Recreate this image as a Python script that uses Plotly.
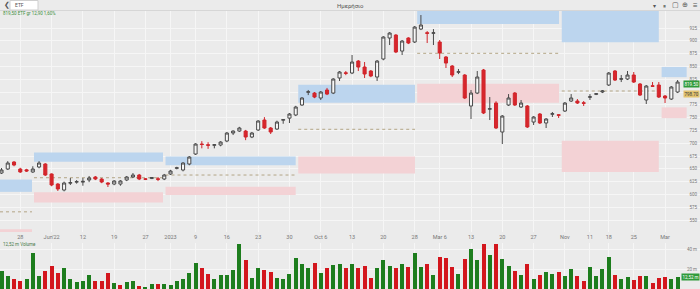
import plotly.graph_objects as go

# ---------------- data ----------------
opens = [641.8, 649.6, 663.3, 649.6, 648.0, 643.8, 653.5, 659.4, 639.9, 620.3,
         608.6, 622.0, 624.0, 624.0, 628.2, 634.0, 630.0, 622.3, 620.3, 620.3,
         628.2, 634.0, 637.9, 630.5, 631.0, 630.5, 630.1, 639.9, 651.0, 647.7,
         659.4, 678.9, 698.5, 697.0, 696.0, 696.5, 704.3, 719.9, 723.8, 723.8,
         712.1, 725.8, 745.3, 729.7, 727.7, 745.0, 749.0, 755.1, 774.6, 799.5,
         798.0, 788.3, 803.9, 798.0, 827.4, 837.5, 837.1, 860.5, 848.8, 841.0,
         829.3, 864.5, 905.5, 911.3, 880.0, 905.5, 897.7, 923.0, 915.7, 914.7,
         897.7, 868.4, 850.8, 838.6, 833.2, 772.7, 798.0, 843.0, 766.4, 778.5,
         721.9, 774.6, 798.0, 770.7, 772.7, 741.4, 757.0, 739.5, 756.6, 755.6,
         762.9, 782.4, 782.4, 779.0, 789.7, 795.6, 800.0, 813.7, 841.0, 824.9,
         825.4, 833.2, 815.6, 784.4, 812.2, 813.7, 792.2, 786.3, 800.0]
highs = [651.6, 665.0, 665.0, 652.0, 650.0, 655.0, 665.0, 661.0, 641.0, 622.0,
         625.0, 632.0, 628.0, 632.0, 636.0, 636.0, 632.0, 624.0, 628.0, 628.0,
         636.0, 641.8, 640.0, 632.0, 634.0, 634.0, 640.0, 648.0, 654.0, 663.0,
         675.0, 700.0, 704.0, 702.0, 698.0, 704.0, 722.0, 725.0, 732.0, 726.0,
         722.0, 745.0, 751.0, 731.7, 744.0, 747.0, 759.0, 773.0, 790.0, 804.0,
         800.0, 802.0, 808.0, 827.0, 841.0, 841.0, 872.3, 862.5, 858.6, 843.0,
         862.5, 909.0, 917.0, 913.0, 901.6, 907.0, 929.0, 950.4, 919.0, 923.0,
         901.6, 870.3, 852.7, 845.0, 835.0, 803.9, 841.0, 845.0, 790.2, 782.0,
         755.0, 796.0, 800.0, 784.4, 774.6, 753.0, 759.0, 749.0, 761.0, 757.0,
         780.5, 796.0, 786.3, 782.4, 796.0, 798.0, 803.9, 839.1, 843.0, 833.2,
         841.0, 839.1, 817.6, 813.7, 819.5, 819.5, 794.1, 811.7, 823.4]
lows = [639.9, 647.7, 655.0, 642.0, 644.0, 642.0, 651.0, 636.0, 616.0, 606.7,
        606.0, 618.4, 621.0, 617.0, 624.0, 628.0, 622.0, 614.5, 618.0, 617.0,
        626.0, 632.0, 628.0, 628.0, 630.0, 626.0, 628.0, 638.0, 649.0, 645.0,
        657.0, 677.0, 690.0, 689.0, 690.0, 694.0, 702.0, 716.0, 722.0, 706.0,
        710.0, 724.0, 728.0, 718.0, 726.0, 738.0, 739.5, 753.0, 773.0, 794.0,
        788.0, 784.4, 794.0, 796.0, 821.5, 833.0, 835.0, 841.0, 827.4, 829.0,
        821.5, 862.0, 891.8, 876.0, 872.3, 893.7, 895.7, 921.0, 895.7, 891.8,
        864.5, 846.9, 829.3, 835.0, 786.3, 747.3, 796.0, 757.0, 745.3, 727.7,
        698.4, 772.7, 772.7, 768.8, 729.7, 735.6, 737.5, 729.7, 751.2, 749.3,
        761.0, 780.5, 776.6, 772.7, 784.4, 794.0, 798.0, 811.7, 821.5, 819.5,
        823.4, 817.6, 792.2, 776.6, 809.8, 788.3, 778.5, 784.4, 798.0]
closes = [647.7, 661.3, 657.4, 643.8, 645.7, 649.6, 661.3, 637.9, 618.4, 610.6,
          622.3, 623.0, 625.0, 625.5, 632.1, 630.1, 624.2, 620.3, 626.2, 626.2,
          634.0, 637.9, 630.1, 629.5, 633.0, 629.5, 637.9, 645.7, 652.0, 661.3,
          673.0, 698.4, 697.5, 696.0, 697.0, 702.3, 719.9, 723.8, 729.7, 712.1,
          719.9, 743.4, 729.7, 721.9, 741.4, 746.0, 757.0, 770.7, 788.3, 800.5,
          790.2, 800.0, 796.0, 825.4, 839.1, 836.5, 858.6, 848.8, 835.2, 831.3,
          860.5, 907.4, 915.2, 878.1, 899.6, 895.7, 926.9, 930.9, 914.7, 915.7,
          876.2, 856.6, 833.2, 839.6, 788.3, 798.0, 829.3, 759.0, 767.4, 729.7,
          753.1, 788.3, 774.6, 778.5, 731.7, 751.2, 739.5, 747.3, 757.6, 754.6,
          778.5, 788.3, 778.5, 778.0, 790.7, 796.6, 802.0, 837.1, 823.4, 825.9,
          833.2, 819.5, 794.1, 811.7, 811.2, 790.2, 788.3, 809.8, 819.5]
volumes = [18.5, 13.5, 10.2, 8.2, 10.5, 36.2, 13.5, 18.5, 23.5, 16.2,
           21.5, 10.5, 7.5, 8.8, 14.2, 8.5, 8.5, 16.5, 6.2, 4.2,
           7.5, 8.2, 3.5, 2.2, 5.2, 5.5, 5.5, 4.2, 8.8, 10.8,
           16.2, 26.8, 21.5, 15.5, 10.2, 14.2, 14.2, 19.8, 45.2, 29.8,
           11.2, 21.2, 19.8, 17.8, 11.5, 10.8, 15.8, 31.2, 25.2, 21.2,
           26.2, 16.5, 21.8, 24.8, 25.8, 21.5, 25.2, 21.2, 23.5, 11.8,
           21.2, 29.5, 23.5, 21.8, 25.5, 22.5, 36.8, 22.5, 25.5, 14.2,
           32.2, 31.5, 22.8, 15.5, 30.2, 40.5, 29.5, 45.5, 34.5, 45.5,
           30.2, 23.5, 18.5, 14.5, 25.5, 10.8, 14.8, 17.2, 15.8, 17.5,
           13.8, 20.5, 13.5, 8.2, 22.8, 13.8, 20.5, 32.2, 14.2, 10.8,
           12.5, 9.8, 13.2, 13.5, 6.5, 11.8, 12.5, 10.2, 12.5]
# g = green volume bar, r = red volume bar (one letter per session)
vol_dir = ("ggrrgggrrr" "gggggrrrgr" "ggrggrgggg" "ggrrgggggr"
           "ggrrgggggg" "rgrggrgrrr" "gggrgrggrg" "rrrgrggrgr"
           "ggrgrgrggr" "ggrrggggrg" "grrgrrrgg")
tick_idx = [3, 8, 13, 18, 23, 27, 31, 36, 41, 46, 51, 56, 61, 66, 70, 75, 80, 85,
            90, 94, 97, 101, 106, 110]
tick_txt = ["28", "Jun'22", "12", "19", "27", "2023", "9", "16", "23", "30", "Oct 6",
            "13", "20", "28", "Mar 6", "13", "20", "27", "Nov", "11", "18", "25", "Mar", "8"]
price_ticks = [550, 575, 600, 625, 650, 675, 700, 725, 750, 775, 800, 825, 850, 875, 900, 925]
price_tick_txt = ["550", "575", "600", "625", "650", "675", "700", "725", "750", "775",
                  "", "825", "850", "875", "900", "925"]

zone_x0 = [-0.24, 5.19, 26.2, 47.4, 66.4, 89.5, 105.45]
zone_x1 = [4.87, 25.8, 47.0, 66.05, 89.06, 105.0, 109.45]
blue_top = [629, 682, 674, 814, 962, 962, 849]
blue_bot = [605, 664, 657, 779, 933, 897, 829]
pink_top = [532, 604, 615, 674, 816, 705, 770]
pink_bot = [520, 584, 599, 641, 779, 644, 749]
mid_line = [566, 632.6, 637.9, 727.2, 875.6, 802.0, None]

last_close = 819.5
ref_level = 798.7
last_vol = 12.5

# ---------------- figure ----------------
N = len(opens)
x = list(range(N))
bar_colors = ["#1d7d1d" if d == "g" else "#d3161d" for d in vol_dir]

H = 289.0
def py(p):
    return 1 - p / H

fig = go.Figure()
fig.add_trace(go.Candlestick(
    x=x, open=opens, high=highs, low=lows, close=closes,
    increasing=dict(line=dict(color="#4a4a4a", width=1), fillcolor="#f7f7f7"),
    decreasing=dict(line=dict(color="#d0252b", width=1), fillcolor="#d8262c"),
    whiskerwidth=0, showlegend=False, hoverinfo="skip", xaxis="x", yaxis="y"))
fig.add_trace(go.Bar(
    x=x, y=volumes, marker=dict(color=bar_colors, line=dict(width=0)),
    width=0.64, showlegend=False, hoverinfo="skip", xaxis="x2", yaxis="y2"))

shapes = []
for i in range(len(zone_x0)):
    shapes.append(dict(type="rect", xref="x", yref="y", x0=zone_x0[i], x1=zone_x1[i],
                       y0=blue_bot[i], y1=blue_top[i], fillcolor="#bcd5ee",
                       line=dict(width=0), layer="between"))
    shapes.append(dict(type="rect", xref="x", yref="y", x0=zone_x0[i], x1=zone_x1[i],
                       y0=pink_bot[i], y1=pink_top[i], fillcolor="#f3d2d5",
                       line=dict(width=0), layer="between"))
    if mid_line[i] is not None:
        shapes.append(dict(type="line", xref="x", yref="y", x0=zone_x0[i], x1=zone_x1[i],
                           y0=mid_line[i], y1=mid_line[i],
                           line=dict(color="#b3a585", width=1, dash="dot"), layer="between"))
# toolbar
shapes.append(dict(type="line", xref="paper", yref="paper", x0=0, x1=1, y0=py(10.5), y1=py(10.5),
                   line=dict(color="#d6d6d6", width=1)))
shapes.append(dict(type="rect", xref="paper", yref="paper", x0=10 / 700, x1=38 / 700,
                   y0=py(10), y1=py(0.5), fillcolor="#ffffff", line=dict(color="#cfcfcf", width=1)))

ann = []
ann.append(dict(text="Ημερήσιο", x=0.5, y=py(5), xref="paper", yref="paper", showarrow=False,
                font=dict(size=6, color="#555555"), xanchor="center", yanchor="middle"))
ann.append(dict(text="ETF", x=13 / 700, y=py(5.5), xref="paper", yref="paper", showarrow=False,
                font=dict(size=5, color="#555555"), xanchor="left", yanchor="middle"))
ann.append(dict(text="❮", x=2 / 700, y=py(5.5), xref="paper", yref="paper", showarrow=False,
                font=dict(size=7, color="#555555"), xanchor="left", yanchor="middle"))
for ix, g, s in [(654, "▾", 6), (664, "⏸", 6), (675, "▢", 7), (685, "⊕", 7), (695, "≡", 8)]:
    ann.append(dict(text=g, x=ix / 700, y=py(5.5), xref="paper", yref="paper", showarrow=False,
                    font=dict(size=s, color="#555555"), xanchor="center", yanchor="middle"))
ann.append(dict(text="819,50 ETF gr 12,90 1,60%", x=1 / 700, y=py(13.5), xref="paper",
                yref="paper", showarrow=False, font=dict(size=4.5, color="#3c8f3c"),
                xanchor="left", yanchor="middle"))
ann.append(dict(text="12,52 m Volume", x=1 / 700, y=py(244.5), xref="paper", yref="paper",
                showarrow=False, font=dict(size=4.5, color="#4a7a4a"),
                xanchor="left", yanchor="middle"))
ann.append(dict(text="%.2f" % last_close, x=1, y=last_close, xref="paper", yref="y",
                showarrow=False, font=dict(size=4.5, color="#ffffff"), bgcolor="#2f9a3a",
                xanchor="right", yanchor="middle", borderpad=0.5, yshift=-2))
ann.append(dict(text="%.2f" % ref_level, x=1, y=ref_level, xref="paper", yref="y",
                showarrow=False, font=dict(size=4.5, color="#3a3a3a"), bgcolor="#e3c36f",
                xanchor="right", yanchor="middle", borderpad=0.5, yshift=-1))
ann.append(dict(text="12,52 m", x=1, y=last_vol, xref="paper", yref="y2",
                showarrow=False, font=dict(size=4.5, color="#ffffff"), bgcolor="#2f9a3a",
                xanchor="right", yanchor="middle", borderpad=0.5))

grid = "#f6f6f6"
xr = [-0.24, -0.24 + 700 / 6.26]
fig.update_layout(
    width=700, height=289, margin=dict(l=0, r=0, t=0, b=0),
    paper_bgcolor="#ebebeb", plot_bgcolor="#ebebeb",
    font=dict(family="Roboto, Arial, sans-serif", size=6, color="#777777"),
    showlegend=False, shapes=shapes, annotations=ann, bargap=0,
    xaxis=dict(domain=[0, 1], range=xr, anchor="y", tickvals=tick_idx, ticktext=tick_txt,
               showgrid=True, gridcolor=grid, gridwidth=1, zeroline=False, showline=False,
               ticks="", tickfont=dict(size=5.5, color="#777777"),
               rangeslider=dict(visible=False)),
    xaxis2=dict(domain=[0, 1], range=xr, anchor="y2", matches="x", tickvals=tick_idx,
                showticklabels=False, showgrid=True, gridcolor=grid, zeroline=False, ticks=""),
    yaxis=dict(domain=[(H - 232) / H, (H - 10) / H], range=[526.6, 960.2], side="right",
               ticklabelposition="inside", tickvals=price_ticks, ticktext=price_tick_txt,
               showgrid=True, gridcolor=grid,
               zeroline=False, ticks="", tickfont=dict(size=4.5, color="#777777")),
    yaxis2=dict(domain=[0, (H - 243) / H], range=[0.5, 46.5], side="right",
                ticklabelposition="inside", tickvals=[20, 40], ticktext=["20 m", "40 m"],
                showgrid=True, gridcolor=grid, zeroline=False, ticks="",
                tickfont=dict(size=4.5, color="#777777")),
)

fig.write_html("out.html")
